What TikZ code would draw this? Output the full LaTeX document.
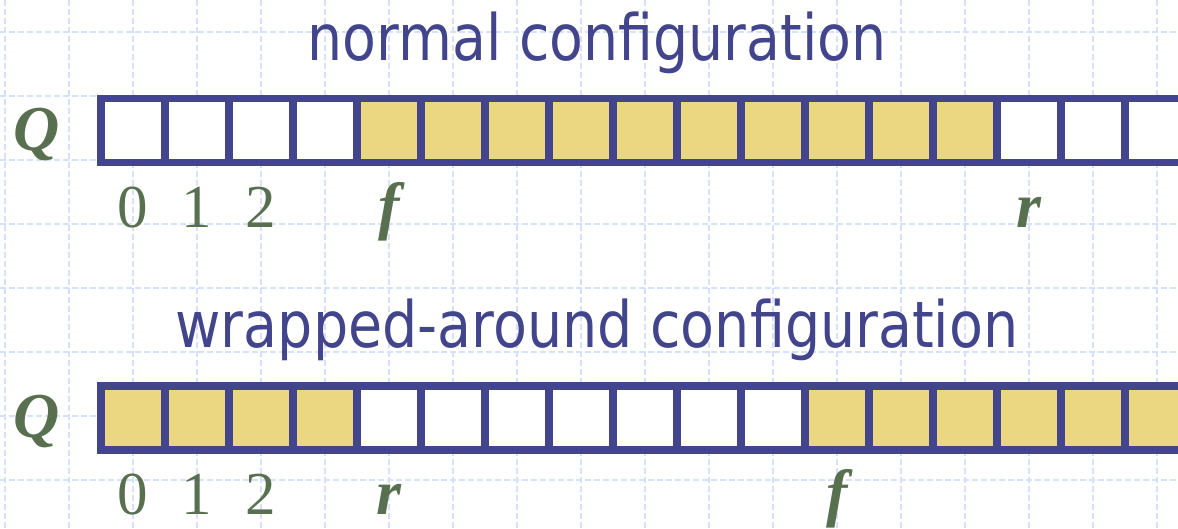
\documentclass[tikz,border=0pt]{standalone}
\usepackage{fontspec}
\setmainfont{Liberation Serif}
\newfontfamily\titlefont{DejaVu Sans}
\usepackage{graphicx}
\definecolor{qblue}{RGB}{66,68,140}
\definecolor{qyellow}{RGB}{235,215,130}
\definecolor{qgreen}{RGB}{88,112,80}
\definecolor{qgrid}{RGB}{214,224,250}
\tikzset{
  cellbox/.style={draw=qblue, line width=7.3pt, minimum size=64pt, inner sep=0pt, fill=white},
  fullbox/.style={cellbox, fill=qyellow},
  titletext/.style={font=\titlefont\fontsize{64}{64}\selectfont, text=qblue, anchor=base, inner sep=0pt},
  digitlabel/.style={font=\fontsize{61}{61}\selectfont, text=qgreen, anchor=base, inner sep=0pt},
  varlabel/.style={font=\fontsize{64}{64}\selectfont\bfseries\itshape, text=qgreen, anchor=base, inner sep=0pt},
  gridline/.style={draw=qgrid, line width=1.1pt, dash pattern=on 6pt off 3pt}
}
\begin{document}
\begin{tikzpicture}[x=1pt,y=-1pt]
\useasboundingbox (0,0) rectangle (1178,528);
\clip (0,0) rectangle (1178,528);
% background grid
\foreach \k in {0,...,18} {\draw[gridline] (5+64*\k,0) -- (5+64*\k,528);}
\foreach \k in {0,...,7} {\draw[gridline] (0,32+64*\k) -- (1178,32+64*\k);}
% titles
\node[titletext] (title1) at (597,60) {\scalebox{0.865}[1]{normal configuration}};
\node[titletext] (title2) at (597,347) {\scalebox{0.867}[1]{wrapped-around configuration}};
% normal configuration row
\foreach \i in {0,...,16} {
  \ifnum\i<4 \def\st{cellbox}\else\ifnum\i<14 \def\st{fullbox}\else\def\st{cellbox}\fi\fi
  \node[\st] (t\i) at (133+64*\i,130.5) {};
}
% wrapped-around row
\foreach \i in {0,...,16} {
  \ifnum\i<4 \def\st{fullbox}\else\ifnum\i<11 \def\st{cellbox}\else\def\st{fullbox}\fi\fi
  \node[\st] (b\i) at (133+64*\i,418) {};
}
% labels
\node[varlabel] (qtop) at (37,150) {Q};
\node[varlabel] (qbot) at (37,437.5) {Q};
\node[digitlabel] (t0l) at (133,227) {0};
\node[digitlabel] (t1l) at (197,227) {1};
\node[digitlabel] (t2l) at (261,227) {2};
\node[varlabel] (tf) at (389,227) {f};
\node[varlabel] (tr) at (1029,227) {r};
\node[digitlabel] (b0l) at (133,514.5) {0};
\node[digitlabel] (b1l) at (197,514.5) {1};
\node[digitlabel] (b2l) at (261,514.5) {2};
\node[varlabel] (br) at (389,514.5) {r};
\node[varlabel] (bf) at (837,514.5) {f};
\end{tikzpicture}
\end{document}
